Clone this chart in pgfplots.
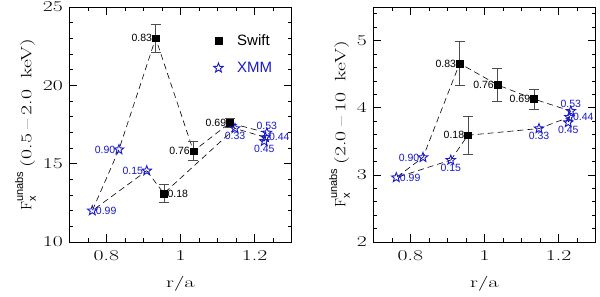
\documentclass[border=0pt]{standalone}
\usepackage{fontspec}
\newfontfamily\labfont{Liberation Sans}
\usepackage{graphicx}
\usepackage{pgfplots}
\usepackage{pgfplotstable}
\pgfplotsset{compat=1.18}
\definecolor{xblue}{rgb}{0.1,0.1,0.8}
\definecolor{ebar}{rgb}{0.3,0.3,0.3}

\pgfdeclareplotmark{ostar}{%
  \pgfpathmoveto{\pgfpointpolar{90}{\pgfplotmarksize}}%
  \pgfpathlineto{\pgfpointpolar{126}{0.42\pgfplotmarksize}}%
  \pgfpathlineto{\pgfpointpolar{162}{\pgfplotmarksize}}%
  \pgfpathlineto{\pgfpointpolar{198}{0.42\pgfplotmarksize}}%
  \pgfpathlineto{\pgfpointpolar{234}{\pgfplotmarksize}}%
  \pgfpathlineto{\pgfpointpolar{270}{0.42\pgfplotmarksize}}%
  \pgfpathlineto{\pgfpointpolar{306}{\pgfplotmarksize}}%
  \pgfpathlineto{\pgfpointpolar{342}{0.42\pgfplotmarksize}}%
  \pgfpathlineto{\pgfpointpolar{18}{\pgfplotmarksize}}%
  \pgfpathlineto{\pgfpointpolar{54}{0.42\pgfplotmarksize}}%
  \pgfpathclose\pgfusepathqstroke}

% Swift, 0.5-2.0 keV
\pgfplotstableread{
x y ey
0.933 23.0 0.9
1.035 15.8 0.6
1.133 17.6 0.3
0.955 13.1 0.58
}\swiftL
% XMM, 0.5-2.0 keV
\pgfplotstableread{
x y
0.762 12.0
0.834 15.9
0.909 14.55
1.147 17.25
1.233 16.97
1.229 16.68
1.226 16.43
}\xmmL
% orbital-phase sequence, 0.5-2.0 keV
\pgfplotstableread{
x y
0.909 14.55
0.955 13.1
1.147 17.25
1.229 16.68
1.226 16.43
1.233 16.97
1.133 17.6
1.035 15.8
0.933 23.0
0.834 15.9
0.762 12.0
0.909 14.55
}\seqL
% Swift, 2.0-10 keV
\pgfplotstableread{
x y ey
0.933 4.66 0.33
1.035 4.34 0.25
1.133 4.13 0.15
0.955 3.59 0.28
}\swiftR
% XMM, 2.0-10 keV
\pgfplotstableread{
x y
0.762 2.96
0.834 3.26
0.909 3.22
1.147 3.69
1.233 3.95
1.229 3.86
1.226 3.78
}\xmmR
\pgfplotstableread{
x y
0.909 3.22
0.955 3.59
1.147 3.69
1.229 3.86
1.226 3.78
1.233 3.95
1.133 4.13
1.035 4.34
0.933 4.66
0.834 3.26
0.762 2.96
0.909 3.22
}\seqR

\pgfplotsset{
  myax/.style={
    scale only axis, width=222.4pt, height=235pt,
    xmin=0.7, xmax=1.3,
    xtick={0.8,1,1.2},
    minor xtick={0.75,0.85,0.9,0.95,1.05,1.1,1.15,1.25},
    tick align=inside,
    major tick length=8pt, minor tick length=4pt,
    tick style={black, line width=0.5pt},
    axis line style={black, line width=0.7pt},
    /pgf/number format/assume math mode=true,
    xticklabel={\scalebox{1.45}[1]{\pgfmathprintnumber{\tick}}},
    yticklabel={\scalebox{1.45}[1]{\pgfmathprintnumber{\tick}}},
    ticklabel style={font=\fontsize{15}{15}\selectfont},
    xticklabel style={yshift=-5pt},
    yticklabel style={xshift=-3pt},
    label style={font=\fontsize{15}{16}\selectfont},
    xlabel={\scalebox{1.5}[1]{r/a}},
    xlabel style={yshift=-9pt},
    clip=false,
  },
  seq/.style={black, line width=0.6pt, dash pattern=on 6pt off 4pt, mark=none, forget plot},
  swiftst/.style={only marks, mark=square*, mark size=3.3pt, black,
    error bars/y dir=both, error bars/y explicit,
    error bars/error bar style={ebar, line width=0.6pt},
    error bars/error mark options={rotate=90, mark size=5pt, ebar, line width=0.6pt}},
  xmmst/.style={only marks, mark=ostar, mark size=5pt, xblue,
    mark options={line width=0.9pt}},
  lbl/.style 2 args={draw=none, mark=none, forget plot,
    point meta=explicit symbolic, nodes near coords,
    nodes near coords style={anchor=#2, inner sep=3.5pt,
      font=\labfont\fontsize{10.5}{10.5}\selectfont, text=#1}},
}

\newcommand{\Fx}{F\makebox[0pt][l]{\raisebox{-0.3em}{\labfont\fontsize{11}{11}\selectfont x}}\raisebox{0.55em}{\labfont\fontsize{11}{11}\selectfont unabs}}

\begin{document}
\begin{tikzpicture}
\useasboundingbox (-69.3pt,-55pt) rectangle (530.7pt,242pt);
\begin{axis}[myax, at={(0pt,0pt)}, anchor=south west,
  ymin=10, ymax=25, ytick={10,15,20,25}, minor ytick={11,12,13,14,16,17,18,19,21,22,23,24},
  ylabel={\Fx\ \scalebox{1.45}[1]{(0.5\hspace{3pt}--\hspace{3pt}2.0\hspace{8pt}keV)}},
  legend style={draw=none, fill=none, at={(0.635,0.9)}, anchor=north west,
    font=\labfont\fontsize{15}{15}\selectfont, row sep=11pt, column sep=12pt},
  legend cell align=left]
\addplot[seq] table[x=x,y=y] {\seqL};
\addplot[swiftst] table[x=x,y=y,y error=ey] {\swiftL};
\addlegendentry{Swift}
\addplot[xmmst] table[x=x,y=y] {\xmmL};
\addlegendentry{\textcolor{xblue}{XMM}}
\addplot[lbl={black}{east}] coordinates {(0.933,23.0)[0.83] (1.035,15.8)[0.76] (1.133,17.6)[0.69]};
\addplot[lbl={black}{west}] coordinates {(0.955,13.1)[0.18]};
\addplot[lbl={xblue}{west}] coordinates {(0.762,12.0)[0.99] (1.229,16.68)[0.44]};
\addplot[lbl={xblue}{east}] coordinates {(0.834,15.9)[0.90] (0.909,14.55)[0.15]};
\addplot[lbl={xblue}{north}] coordinates {(1.147,17.25)[0.33] (1.226,16.43)[0.45]};
\addplot[lbl={xblue}{south}] coordinates {(1.233,16.97)[0.53]};
\end{axis}
\begin{axis}[myax, at={(304pt,0pt)}, anchor=south west,
  ymin=2, ymax=5.5, ytick={2,3,4,5},
  minor ytick={2.2,2.4,2.6,2.8,3.2,3.4,3.6,3.8,4.2,4.4,4.6,4.8,5.2,5.4},
  ylabel={\Fx\ \scalebox{1.45}[1]{(2.0\hspace{3pt}--\hspace{3pt}10\hspace{8pt}keV)}}]
\addplot[seq] table[x=x,y=y] {\seqR};
\addplot[swiftst] table[x=x,y=y,y error=ey] {\swiftR};
\addplot[xmmst] table[x=x,y=y] {\xmmR};
\addplot[lbl={black}{east}] coordinates {(0.933,4.66)[0.83] (1.035,4.34)[0.76] (1.133,4.13)[0.69] (0.955,3.59)[0.18]};
\addplot[lbl={xblue}{west}] coordinates {(0.762,2.96)[0.99] (1.229,3.86)[0.44]};
\addplot[lbl={xblue}{east}] coordinates {(0.834,3.26)[0.90]};
\addplot[lbl={xblue}{north}] coordinates {(0.909,3.22)[0.15] (1.147,3.69)[0.33] (1.226,3.78)[0.45]};
\addplot[lbl={xblue}{south}] coordinates {(1.233,3.95)[0.53]};
\end{axis}
\end{tikzpicture}
\end{document}
